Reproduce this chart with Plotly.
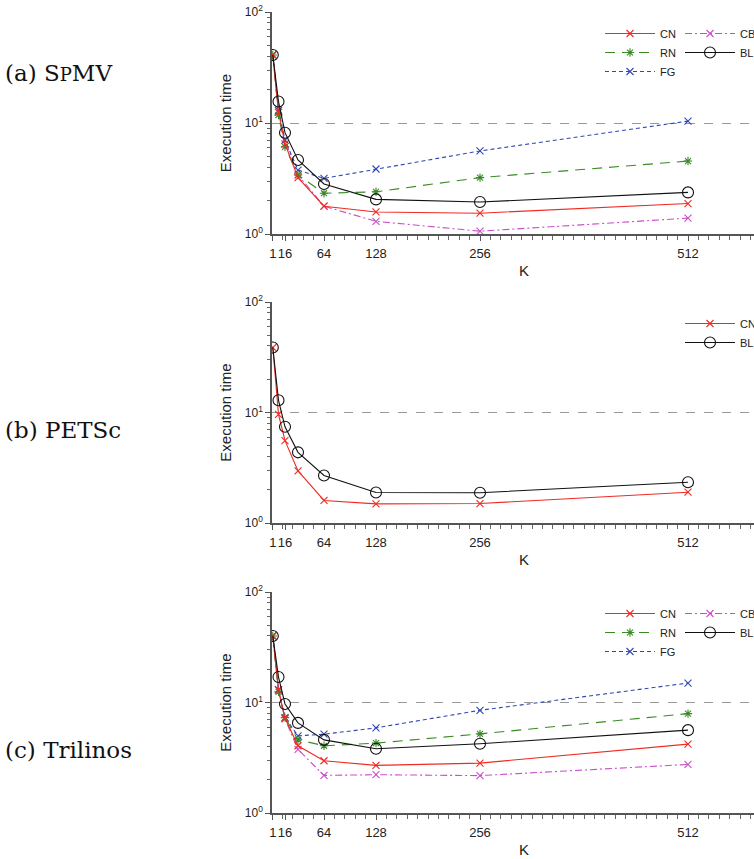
import plotly.graph_objects as go

# ---------------- data ----------------
K = [1, 8, 16, 32, 64, 128, 256, 512]

# (a) SpMV
spmv_CN = [41, 12.5, 6.5, 3.22, 1.78, 1.58, 1.54, 1.88]
spmv_RN = [41, 11.8, 6.1, 3.4, 2.33, 2.40, 3.22, 4.54]
spmv_FG = [41, 13.0, 7.0, 3.77, 3.17, 3.85, 5.6, 10.4]
spmv_CB = [41, 13.0, 7.0, 3.4, 1.78, 1.30, 1.06, 1.39]
spmv_BL = [41, 15.6, 8.18, 4.64, 2.82, 2.05, 1.94, 2.37]

# (b) PETSc
petsc_CN = [38.7, 9.6, 5.56, 2.96, 1.60, 1.49, 1.50, 1.90]
petsc_BL = [38.7, 12.9, 7.43, 4.36, 2.69, 1.89, 1.88, 2.34]

# (c) Trilinos
tril_CN = [40, 13.0, 7.2, 4.06, 2.97, 2.70, 2.83, 4.2]
tril_RN = [40, 12.5, 7.3, 4.6, 4.06, 4.29, 5.2, 7.93]
tril_FG = [40, 13.0, 7.3, 4.99, 5.17, 5.89, 8.5, 15.0]
tril_CB = [40, 13.1, 7.1, 3.76, 2.19, 2.22, 2.18, 2.75]
tril_BL = [40, 17.0, 9.7, 6.54, 4.59, 3.81, 4.23, 5.62]

x_tickvals = [1, 16, 64, 128, 256, 512]
x_ticktext = ["1", "16", "64", "128", "256", "512"]
y_tickvals = [1, 10, 100]
y_ticktext = ["10<sup>0</sup>", "10<sup>1</sup>", "10<sup>2</sup>"]
y_minor = [2, 3, 4, 5, 6, 7, 8, 9, 20, 30, 40, 50, 60, 70, 80, 90]

panel_labels = ["(a) S<span style='font-size:18px'>P</span>MV", "(b) PETSc", "(c) Trilinos"]

# ---------------- styles ----------------
STY = {
    "CN": dict(color="#ee2b22", dash="solid", symbol="x-thin-open", size=7),
    "RN": dict(color="#3a8a26", dash="10px,7px", symbol="asterisk-open", size=7),
    "FG": dict(color="#3347b3", dash="4px,3px", symbol="x-thin-open", size=7),
    "CB": dict(color="#c94fc9", dash="7px,3px,2px,3px", symbol="x-thin-open", size=7),
    "BL": dict(color="#111111", dash="solid", symbol="circle-open", size=11),
}

W, H = 800, 859
L, T, B = 272, 12, 46
PW = 504
R = W - L - PW
PH = H - T - B

fig = go.Figure()


def add(name, xs, ys, ax, legend):
    s = STY[name]
    fig.add_trace(go.Scatter(
        x=xs, y=ys, name=name, mode="lines+markers",
        line=dict(color=s["color"], dash=s["dash"], width=1.1),
        marker=dict(symbol=s["symbol"], size=s["size"], color=s["color"],
                    line=dict(color=s["color"], width=1.1)),
        xaxis="x" + ax, yaxis="y" + ax, legend=legend,
    ))


# panel (a)
add("CB", K, spmv_CB, "", "legend2")
add("FG", K, spmv_FG, "", "legend")
add("RN", K, spmv_RN, "", "legend")
add("CN", K, spmv_CN, "", "legend")
add("BL", K, spmv_BL, "", "legend2")
# panel (b)
add("CN", K, petsc_CN, "2", "legend3")
add("BL", K, petsc_BL, "2", "legend3")
# panel (c)
add("CB", K, tril_CB, "3", "legend5")
add("FG", K, tril_FG, "3", "legend4")
add("RN", K, tril_RN, "3", "legend4")
add("CN", K, tril_CN, "3", "legend4")
add("BL", K, tril_BL, "3", "legend5")

# legend ranks (column order CN, RN, FG / CB, BL)
rank = {"CN": 1, "RN": 2, "FG": 3, "CB": 1, "BL": 2}
for tr in fig.data:
    tr.legendrank = rank[tr.name]

# panel pixel extents (top, bottom) of plot areas
panels = [(12, 234), (302, 523), (592, 813)]

axis_font = dict(family="Liberation Sans, Arial, sans-serif", size=13, color="#222")

layout = dict(
    width=W, height=H,
    margin=dict(l=L, r=R, t=T, b=B, autoexpand=False),
    paper_bgcolor="white", plot_bgcolor="white",
    font=dict(family="Liberation Sans, Arial, sans-serif", color="#222"),
    showlegend=True,
)

for i, (top, bot) in enumerate(panels):
    sfx = "" if i == 0 else str(i + 1)
    d0 = (H - B - bot) / PH
    d1 = (H - B - top) / PH
    layout["xaxis" + sfx] = dict(
        domain=[0, 1], range=[0, PW / 0.8125], anchor="y" + sfx,
        tickvals=x_tickvals, ticktext=x_ticktext, ticks="outside", ticklen=5,
        tickangle=0, ticklabelstandoff=2,
        tickcolor="#555", tickwidth=1, showline=True, linecolor="#555", linewidth=1.5,
        showgrid=False, zeroline=False, tickfont=axis_font,
        minor=dict(ticks="outside", ticklen=4, dtick=12.8, tick0=0, tickcolor="#666", showgrid=False),
        title=dict(text="K", font=dict(size=15, color="#222"), standoff=5),
    )
    layout["yaxis" + sfx] = dict(
        domain=[d0, d1], type="log", range=[0, 2], anchor="x" + sfx,
        tickvals=y_tickvals, ticktext=y_ticktext, ticks="outside", ticklen=5,
        tickcolor="#555", showline=True, linecolor="#555", linewidth=1.5,
        showgrid=True, gridcolor="#999", griddash="dash", gridwidth=1,
        zeroline=False, tickfont=dict(family="Liberation Sans, Arial, sans-serif", size=12, color="#222"),
        minor=dict(ticks="outside", ticklen=3, tickvals=y_minor, tickcolor="#666", showgrid=False),
        title=dict(text="Execution time", font=dict(size=15, color="#222"), standoff=10),
    )

leg_font = dict(family="Liberation Sans, Arial, sans-serif", size=11, color="#222")


def legend_at(px, py):
    return dict(xref="paper", yref="paper", x=(px - L) / PW, y=(H - B - py) / PH,
                xanchor="left", yanchor="top", bgcolor="rgba(0,0,0,0)",
                font=leg_font, itemwidth=50, tracegroupgap=2, orientation="v")


layout["legend"] = legend_at(600, 19)
layout["legend2"] = legend_at(680, 19)
layout["legend3"] = legend_at(680, 309)
layout["legend4"] = legend_at(600, 599)
layout["legend5"] = legend_at(680, 599)

annotations = []
label_y = [73, 430, 750]
for txt, py in zip(panel_labels, label_y):
    annotations.append(dict(
        text=txt, xref="paper", yref="paper", x=(3 - L) / PW, y=(H - B - py) / PH,
        xanchor="left", yanchor="middle", showarrow=False,
        font=dict(family="DejaVu Serif, Liberation Serif, serif", size=23, color="#111"),
    ))
layout["annotations"] = annotations

fig.update_layout(**layout)

fig.write_html(
    "out.html",
    config={"displayModeBar": False},
    post_script="document.body.style.margin='0';document.body.style.overflow='hidden';"
                "document.documentElement.style.overflow='hidden';",
)
